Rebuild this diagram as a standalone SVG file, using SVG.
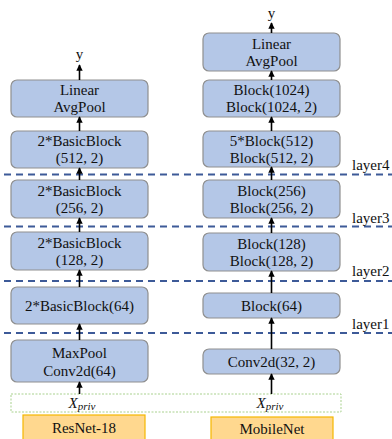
<svg xmlns="http://www.w3.org/2000/svg" width="392" height="439" viewBox="0 0 392 439">
<defs>
<marker id="ah" viewBox="0 0 10 10" refX="9" refY="5" markerWidth="4" markerHeight="4" orient="auto" markerUnits="strokeWidth">
<path d="M0,0 L10,5 L0,10 z" fill="#000"/>
</marker>
<style>
.box{fill:#b4c7e7;stroke:#8f8f8f;stroke-width:1.2}
.t{font-family:"Liberation Serif","Times New Roman",serif;font-size:15px;fill:#111;text-anchor:middle}
.lay{font-family:"Liberation Serif","Times New Roman",serif;font-size:15px;fill:#111}
.dash{stroke:#3d5a98;stroke-width:1.8;stroke-dasharray:7 5;fill:none}
.arr{stroke:#000;stroke-width:1.6;fill:none;marker-end:url(#ah)}
.org{fill:#ffd88f;stroke:#f5b700;stroke-width:1.2}
.xp{font-family:"Liberation Serif","Times New Roman",serif;font-style:italic;font-size:15px;fill:#111;text-anchor:middle}
</style>
</defs>
<rect x="0" y="0" width="392" height="439" fill="#fff"/>

<g id="dashes">
<line class="dash" x1="4" y1="174.5" x2="392" y2="174.5"/>
<line class="dash" x1="4" y1="226.5" x2="392" y2="226.5"/>
<line class="dash" x1="4" y1="281" x2="392" y2="281"/>
<line class="dash" x1="4" y1="333" x2="392" y2="333"/>
</g>

<g id="input">
<rect x="11" y="394" width="330" height="18" fill="#fff" stroke="#a9d18e" stroke-width="1" stroke-dasharray="2 1.5"/>
<text class="xp" x="82" y="408">X<tspan font-size="11" dy="2">priv</tspan></text>
<text class="xp" x="270" y="408">X<tspan font-size="11" dy="2">priv</tspan></text>
</g>

<g id="resnet-label"><rect class="org" x="23" y="415" width="122" height="26"/><text class="t" x="84" y="433">ResNet-18</text></g>
<g id="mobilenet-label"><rect class="org" x="211" y="417" width="122" height="24"/><text class="t" x="272" y="434">MobileNet</text></g>

<g id="r-linear"><rect class="box" x="11" y="80" width="137" height="37" rx="6"/><text class="t" x="79.5" y="95">Linear</text><text class="t" x="79.5" y="112">AvgPool</text></g>
<g id="r-l4"><rect class="box" x="11" y="131" width="137" height="37" rx="6"/><text class="t" x="79.5" y="146">2*BasicBlock</text><text class="t" x="79.5" y="163">(512, 2)</text></g>
<g id="r-l3"><rect class="box" x="11" y="180" width="137" height="38" rx="6"/><text class="t" x="79.5" y="196">2*BasicBlock</text><text class="t" x="79.5" y="213">(256, 2)</text></g>
<g id="r-l2"><rect class="box" x="11" y="232" width="137" height="38" rx="6"/><text class="t" x="79.5" y="248">2*BasicBlock</text><text class="t" x="79.5" y="265">(128, 2)</text></g>
<g id="r-l1"><rect class="box" x="11" y="287" width="137" height="37" rx="6"/><text class="t" x="79.5" y="311">2*BasicBlock(64)</text></g>
<g id="r-stem"><rect class="box" x="11" y="340" width="137" height="42" rx="6"/><text class="t" x="79.5" y="358">MaxPool</text><text class="t" x="79.5" y="376">Conv2d(64)</text></g>
<text class="t" x="79.5" y="59">y</text>

<g id="m-linear"><rect class="box" x="203" y="33" width="137" height="38" rx="6"/><text class="t" x="271.5" y="49">Linear</text><text class="t" x="271.5" y="66">AvgPool</text></g>
<g id="m-1024"><rect class="box" x="203" y="80" width="137" height="37" rx="6"/><text class="t" x="271.5" y="95">Block(1024)</text><text class="t" x="271.5" y="112">Block(1024, 2)</text></g>
<g id="m-l4"><rect class="box" x="203" y="131" width="137" height="36" rx="6"/><text class="t" x="271.5" y="146">5*Block(512)</text><text class="t" x="271.5" y="163">Block(512, 2)</text></g>
<g id="m-l3"><rect class="box" x="203" y="180" width="137" height="38" rx="6"/><text class="t" x="271.5" y="196">Block(256)</text><text class="t" x="271.5" y="213">Block(256, 2)</text></g>
<g id="m-l2"><rect class="box" x="203" y="233" width="137" height="38" rx="6"/><text class="t" x="271.5" y="249">Block(128)</text><text class="t" x="271.5" y="266">Block(128, 2)</text></g>
<g id="m-l1"><rect class="box" x="203" y="293" width="137" height="25" rx="6"/><text class="t" x="271.5" y="311">Block(64)</text></g>
<g id="m-stem"><rect class="box" x="203" y="349" width="137" height="25" rx="6"/><text class="t" x="271.5" y="367">Conv2d(32, 2)</text></g>
<text class="t" x="271.5" y="18">y</text>

<g id="layer-labels">
<text class="lay" x="352" y="170">layer4</text>
<text class="lay" x="352" y="223">layer3</text>
<text class="lay" x="352" y="276">layer2</text>
<text class="lay" x="352" y="329">layer1</text>
</g>

<g id="connectors">
<line class="arr" x1="79.5" y1="80" x2="79.5" y2="65"/>
<line class="arr" x1="79.5" y1="131" x2="79.5" y2="117"/>
<line class="arr" x1="79.5" y1="180" x2="79.5" y2="168"/>
<line class="arr" x1="79.5" y1="232" x2="79.5" y2="218"/>
<line class="arr" x1="79.5" y1="287" x2="79.5" y2="270"/>
<line class="arr" x1="79.5" y1="340" x2="79.5" y2="324"/>
<line class="arr" x1="79.5" y1="394" x2="79.5" y2="382"/>
<line class="arr" x1="271.5" y1="33" x2="271.5" y2="23"/>
<line class="arr" x1="271.5" y1="80" x2="271.5" y2="71"/>
<line class="arr" x1="271.5" y1="131" x2="271.5" y2="117"/>
<line class="arr" x1="271.5" y1="180" x2="271.5" y2="167"/>
<line class="arr" x1="271.5" y1="233" x2="271.5" y2="218"/>
<line class="arr" x1="271.5" y1="293" x2="271.5" y2="271"/>
<line class="arr" x1="271.5" y1="349" x2="271.5" y2="318"/>
<line class="arr" x1="271.5" y1="394" x2="271.5" y2="374"/>
</g>
</svg>
